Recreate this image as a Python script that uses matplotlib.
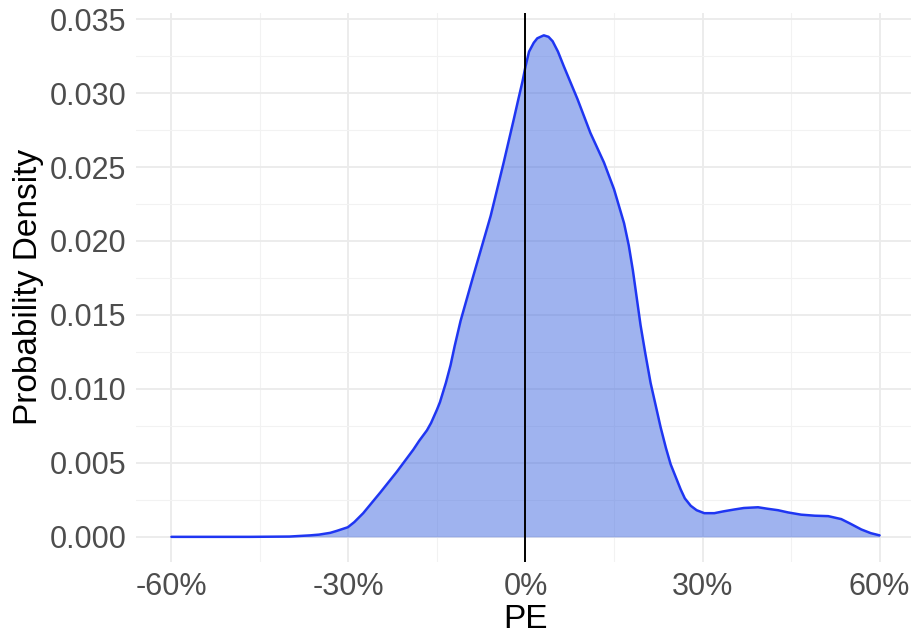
import matplotlib
matplotlib.use("Agg")
import matplotlib.pyplot as plt
from matplotlib.ticker import FixedLocator, FuncFormatter

# PE (percent) and estimated density
pe_pct = [-60, -46.7, -40, -36.5, -35, -33.1, -32, -30.1, -29, -27.5,
          -24.6, -21.8, -19.0, -18.0, -16.7, -16.0, -15.0, -14.5, -13.5, -12.7,
          -12.0, -11.0, -8.8, -5.9, -3.7, -2.0, -1.2, -0.5, 0.0, 0.6,
          1.4, 2.0, 3.1, 3.9, 4.6, 5.5, 6.5, 8.8, 11.0, 13.3,
          15.0, 16.7, 17.5, 18.2, 19.5, 20.3, 21.2, 22.9, 23.8, 24.6,
          25.5, 26.3, 27.0, 28.0, 29.0, 30.3, 31.0, 32.0, 33.5, 35.4,
          37.0, 39.4, 41.0, 42.8, 44.5, 46.7, 49.0, 51.3, 53.5, 55.0,
          56.9, 58.5, 60.0]
density = [0.0, 0.0, 0.00002, 0.0001, 0.00015, 0.00027, 0.0004, 0.00065, 0.001, 0.0016,
           0.0030, 0.0044, 0.0059, 0.0065, 0.0072, 0.0077, 0.0086, 0.0091, 0.0104, 0.0116,
           0.0129, 0.0146, 0.0177, 0.0217, 0.0253, 0.0282, 0.0296, 0.0308, 0.0318, 0.0328,
           0.0334, 0.0337, 0.0339, 0.0338, 0.0335, 0.0328, 0.0318, 0.0296, 0.0273, 0.0253,
           0.0235, 0.0212, 0.0197, 0.0180, 0.0143, 0.0124, 0.0104, 0.0074, 0.0060, 0.0049,
           0.0040, 0.0032, 0.0026, 0.0021, 0.0018, 0.0016, 0.0016, 0.0016, 0.00172, 0.00185,
           0.00195, 0.0020, 0.0019, 0.0018, 0.00165, 0.0015, 0.00143, 0.0014, 0.0012, 0.0009,
           0.0005, 0.00025, 0.0001]

x_ticks = [-60, -30, 0, 30, 60]
x_minor = [-45, -15, 15, 45]
y_ticks = [0.000, 0.005, 0.010, 0.015, 0.020, 0.025, 0.030, 0.035]
y_minor = [0.0025, 0.0075, 0.0125, 0.0175, 0.0225, 0.0275, 0.0325]

plt.rcParams['font.family'] = ['Liberation Sans', 'DejaVu Sans']

fig = plt.figure(figsize=(9.12, 6.35), dpi=100)
ax = fig.add_axes([136/912, 1-562/635, 779/912, (562-12.7)/635])

ax.set_xlim(-66, 66)
ax.set_ylim(-0.0017, 0.03543)

# grid
for v in x_ticks:
    ax.axvline(v, color='#ebebeb', lw=1.3, zorder=0)
for v in x_minor:
    ax.axvline(v, color='#f2f2f2', lw=0.8, zorder=0)
for v in y_ticks:
    ax.axhline(v, color='#ebebeb', lw=1.3, zorder=0)
for v in y_minor:
    ax.axhline(v, color='#f2f2f2', lw=0.8, zorder=0)

ax.fill_between(pe_pct, density, 0, color='royalblue', alpha=0.5, lw=0, zorder=2)
ax.plot(pe_pct, density, color='#1f36f2', lw=1.8, zorder=3,
        solid_capstyle='round', solid_joinstyle='round')
ax.axvline(0, color='black', lw=1.4, zorder=4)

ax.xaxis.set_major_locator(FixedLocator(x_ticks))
ax.yaxis.set_major_locator(FixedLocator(y_ticks))
ax.xaxis.set_major_formatter(FuncFormatter(lambda v, p: f"{int(v)}%"))
ax.yaxis.set_major_formatter(FuncFormatter(lambda v, p: f"{v:.3f}"))
ax.tick_params(axis='both', length=0, labelsize=22, colors='#4d4d4d', pad=7)
for s in ax.spines.values():
    s.set_visible(False)

ax.set_xlabel("PE", fontsize=24, color='black', labelpad=2)
ax.set_ylabel("Probability Density", fontsize=24, color='black', labelpad=4)

fig.savefig("out.png", dpi=100)
